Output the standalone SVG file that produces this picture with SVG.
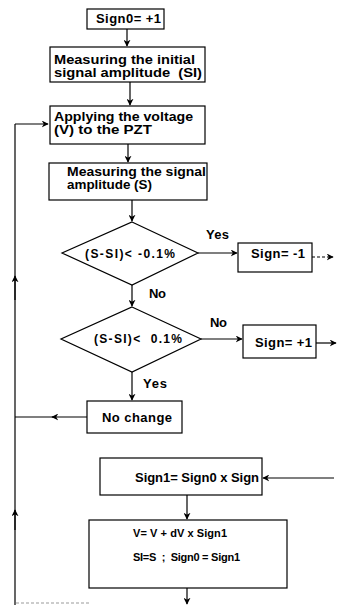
<svg xmlns="http://www.w3.org/2000/svg" width="337" height="605" viewBox="0 0 337 605">
<style>
.box{fill:#fff;stroke:#000;stroke-width:1.2}
.ln{fill:none;stroke:#000;stroke-width:1.2}
.t{font-family:"Liberation Sans",Arial,sans-serif;font-weight:bold;font-size:13px;fill:#000;white-space:pre}
.s{font-size:12px}
.m{font-size:12px}
.v{font-size:11px}
</style>
<defs>
<marker id="ah" viewBox="0 0 10 10" refX="9" refY="5" markerWidth="7" markerHeight="7" orient="auto" markerUnits="userSpaceOnUse">
<path d="M0,0 L10,5 L0,10 L3,5 z" fill="#000"/>
</marker>
</defs>
<rect width="337" height="605" fill="#fff"/>
<g id="connectors">
<line class="ln" x1="127" y1="29" x2="127" y2="46" marker-end="url(#ah)"/>
<line class="ln" x1="130" y1="82" x2="130" y2="105" marker-end="url(#ah)"/>
<line class="ln" x1="128" y1="144" x2="128" y2="162" marker-end="url(#ah)"/>
<line class="ln" x1="132" y1="200" x2="132" y2="221" marker-end="url(#ah)"/>
<line class="ln" x1="198" y1="253" x2="237" y2="253" marker-end="url(#ah)"/>
<line class="ln" x1="312" y1="257" x2="333" y2="257" stroke-dasharray="3,2" marker-end="url(#ah)"/>
<line class="ln" x1="132" y1="285" x2="132" y2="306" marker-end="url(#ah)"/>
<line class="ln" x1="201" y1="339" x2="242" y2="339" marker-end="url(#ah)"/>
<line class="ln" x1="316" y1="343" x2="336" y2="343" marker-end="url(#ah)"/>
<line class="ln" x1="132" y1="372" x2="132" y2="400" marker-end="url(#ah)"/>
<line class="ln" x1="87" y1="417" x2="52" y2="417" marker-end="url(#ah)"/>
<line class="ln" x1="54" y1="417" x2="15" y2="417"/>
<line class="ln" x1="15" y1="605" x2="15" y2="124"/>
<line class="ln" x1="15" y1="300" x2="15" y2="276" marker-end="url(#ah)"/>
<line class="ln" x1="15" y1="530" x2="15" y2="510" marker-end="url(#ah)"/>
<line class="ln" x1="15" y1="124" x2="48" y2="124" marker-end="url(#ah)"/>
<line class="ln" x1="334" y1="478" x2="263" y2="478" marker-end="url(#ah)"/>
<line class="ln" x1="187" y1="495" x2="187" y2="519" marker-end="url(#ah)"/>
<line class="ln" x1="187" y1="588" x2="187" y2="604" marker-end="url(#ah)"/>
<line x1="16" y1="603" x2="90" y2="603" stroke="#999" stroke-width="1" stroke-dasharray="3,2"/>
</g>
<g id="n_sign0"><rect class="box" x="87" y="9" width="77" height="20"/><text class="t" x="96" y="23" textLength="65">Sign0= +1</text></g>
<g id="n_measure_init"><rect class="box" x="50" y="47" width="155" height="35"/><text class="t m" x="54" y="64" textLength="141" lengthAdjust="spacingAndGlyphs">Measuring the initial</text><text class="t m" x="54" y="77" textLength="148" lengthAdjust="spacingAndGlyphs">signal amplitude  (SI)</text></g>
<g id="n_apply"><rect class="box" x="50" y="106" width="155" height="38"/><text class="t m" x="54" y="121" textLength="139" lengthAdjust="spacingAndGlyphs">Applying the voltage</text><text class="t m" x="54" y="134" textLength="98" lengthAdjust="spacingAndGlyphs">(V) to the PZT</text></g>
<g id="n_measure"><rect class="box" x="49" y="163" width="158" height="37"/><text class="t m" x="67" y="176" textLength="139" lengthAdjust="spacingAndGlyphs">Measuring the signal</text><text class="t m" x="67" y="189" textLength="85" lengthAdjust="spacingAndGlyphs">amplitude (S)</text></g>
<g id="n_d1"><polygon class="box" points="132,222 198,253 132,285 62,253"/><text class="t s" x="85" y="258" textLength="90">(S-SI)&lt; -0.1%</text></g>
<g id="n_signm1"><rect class="box" x="238" y="243" width="74" height="29"/><text class="t" x="251" y="258" textLength="54">Sign= -1</text></g>
<g id="n_d2"><polygon class="box" points="132,307 201,339 132,372 61,339"/><text class="t s" x="94" y="343" textLength="88">(S-SI)&lt;  0.1%</text></g>
<g id="n_signp1"><rect class="box" x="243" y="325" width="73" height="33"/><text class="t" x="255" y="347" textLength="57">Sign= +1</text></g>
<g id="n_nochange"><rect class="box" x="87" y="401" width="95" height="32"/><text class="t" x="102" y="422" textLength="70">No change</text></g>
<g id="n_sign1"><rect class="box" x="100" y="458" width="162" height="37"/><text class="t" x="135" y="482" textLength="124">Sign1= Sign0 x Sign</text></g>
<g id="n_update"><rect class="box" x="89" y="520" width="198" height="68"/><text class="t v" x="133" y="537" textLength="94">V= V + dV x Sign1</text><text class="t v" x="133" y="561" textLength="107">SI=S  ;  Sign0 = Sign1</text></g>
<g id="labels">
<text class="t" x="206" y="239" textLength="23">Yes</text>
<text class="t" x="149" y="298" textLength="17">No</text>
<text class="t" x="210" y="327" textLength="17">No</text>
<text class="t" x="143" y="388" textLength="24">Yes</text>
</g>
</svg>
